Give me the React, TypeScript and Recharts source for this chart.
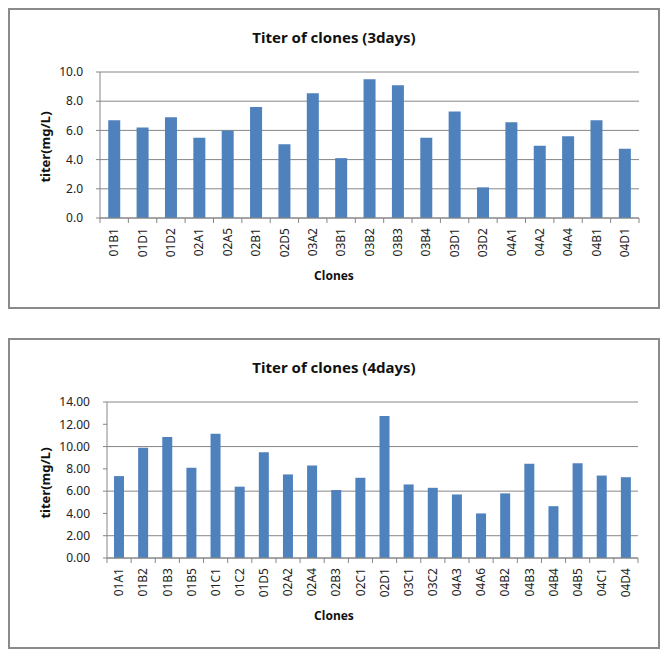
import { BarChart, Bar, XAxis, YAxis, CartesianGrid } from "recharts";

// 3 days
const clones3 = [
  "01B1", "01D1", "01D2", "02A1", "02A5", "02B1", "02D5", "03A2", "03B1", "03B2",
  "03B3", "03B4", "03D1", "03D2", "04A1", "04A2", "04A4", "04B1", "04D1",
];
const titer3 = [
  6.7, 6.2, 6.9, 5.5, 6.0, 7.6, 5.05, 8.55, 4.1, 9.5,
  9.1, 5.5, 7.3, 2.1, 6.55, 4.95, 5.6, 6.7, 4.75,
];
const ticks3 = [0, 2, 4, 6, 8, 10];

// 4 days
const clones4 = [
  "01A1", "01B2", "01B3", "01B5", "01C1", "01C2", "01D5", "02A2", "02A4", "02B3", "02C1",
  "02D1", "03C1", "03C2", "04A3", "04A6", "04B2", "04B3", "04B4", "04B5", "04C1", "04D4",
];
const titer4 = [
  7.35, 9.9, 10.85, 8.1, 11.15, 6.4, 9.5, 7.5, 8.3, 6.1, 7.2,
  12.75, 6.6, 6.3, 5.7, 4.0, 5.8, 8.45, 4.65, 8.5, 7.4, 7.25,
];
const ticks4 = [0, 2, 4, 6, 8, 10, 12, 14];

const BLUE = "#4f81bd";
const GRID = "#868686";
const FONT = "'Noto Sans', 'Liberation Sans', sans-serif";

// category label, rotated, plus Excel-style tick marks between categories
function CloneTick(props: any) {
  const { x, y, payload, index, visibleTicksCount } = props;
  const half = payload.offset ?? 0;
  const axisY = y - 10;
  const last = index === visibleTicksCount - 1;
  return (
    <g>
      <line x1={x - half} x2={x - half} y1={axisY} y2={axisY + 5} stroke={GRID} />
      {last && <line x1={x + half} x2={x + half} y1={axisY} y2={axisY + 5} stroke={GRID} />}
      <text
        x={x}
        y={y}
        transform={`rotate(-90, ${x}, ${y})`}
        textAnchor="end"
        dy="0.35em"
        fontSize={12}
        fontFamily={FONT}
        fill="#222"
      >
        {payload.value}
      </text>
    </g>
  );
}

interface TiterChartProps {
  title: string;
  names: string[];
  values: number[];
  ticks: number[];
  digits: number;
  height: number;
  yWidth: number;
  rightGap: number;
  yLabelTop: number;
}

function TiterChart(p: TiterChartProps) {
  const data = p.names.map((name, i) => ({ name, titer: p.values[i] }));
  const innerH = p.height - 4;
  return (
    <div style={{ ...boxStyle, height: p.height }}>
      <div style={titleStyle}>{p.title}</div>
      <div style={{ ...yLabelStyle, top: p.yLabelTop }}>titer(mg/L)</div>
      <div style={{ ...xLabelStyle, top: innerH - 39 }}>Clones</div>
      <BarChart
        width={648}
        height={innerH}
        data={data}
        margin={{ top: 62, right: p.rightGap, bottom: 0, left: 0 }}
        barCategoryGap="29%"
      >
        <CartesianGrid vertical={false} stroke={GRID} />
        <XAxis
          dataKey="name"
          height={89}
          interval={0}
          tickLine={false}
          tickSize={0}
          tickMargin={10}
          stroke={GRID}
          tick={<CloneTick />}
        />
        <YAxis
          width={p.yWidth}
          domain={[p.ticks[0], p.ticks[p.ticks.length - 1]]}
          ticks={p.ticks}
          tickSize={4}
          tickMargin={13}
          stroke={GRID}
          tick={{ fill: "#222", fontSize: 12, fontFamily: FONT }}
          tickFormatter={(v: number) => v.toFixed(p.digits)}
        />
        <Bar dataKey="titer" fill={BLUE} isAnimationActive={false} />
      </BarChart>
    </div>
  );
}

export default function App() {
  return (
    <div style={{ width: 652 }}>
      <TiterChart
        title="Titer of clones (3days)"
        names={clones3}
        values={titer3}
        ticks={ticks3}
        digits={1}
        height={301}
        yWidth={90}
        rightGap={19}
        yLabelTop={137}
      />
      <div style={{ height: 29 }} />
      <TiterChart
        title="Titer of clones (4days)"
        names={clones4}
        values={titer4}
        ticks={ticks4}
        digits={2}
        height={311}
        yWidth={97}
        rightGap={20}
        yLabelTop={143}
      />
    </div>
  );
}

const boxStyle: React.CSSProperties = {
  position: "relative",
  boxSizing: "border-box",
  width: 652,
  border: "2px solid #8a8a8a",
  background: "#fff",
};

const titleStyle: React.CSSProperties = {
  position: "absolute",
  left: 0,
  right: 0,
  top: 18,
  textAlign: "center",
  fontFamily: FONT,
  fontSize: 15,
  lineHeight: "18px",
  fontWeight: 700,
  color: "#111",
};

const yLabelStyle: React.CSSProperties = {
  position: "absolute",
  left: 35,
  transform: "translate(-50%, -50%) rotate(-90deg)",
  whiteSpace: "nowrap",
  fontFamily: FONT,
  fontSize: 13,
  lineHeight: "16px",
  fontWeight: 700,
  color: "#111",
};

const xLabelStyle: React.CSSProperties = {
  position: "absolute",
  left: 0,
  right: 0,
  textAlign: "center",
  fontFamily: FONT,
  fontSize: 12,
  lineHeight: "16px",
  fontWeight: 700,
  color: "#111",
};
